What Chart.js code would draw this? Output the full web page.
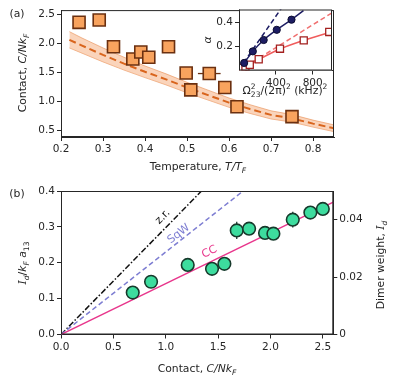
<!DOCTYPE html>
<html>
<head>
<meta charset="utf-8">
<script src="https://cdn.jsdelivr.net/npm/chart.js@4.4.1/dist/chart.umd.min.js"></script>
<style>
  body { margin: 0; background: #fff; }
  #wrap { position: relative; width: 397px; height: 381px; }
  canvas { position: absolute; }
</style>
</head>
<body>
<div id="wrap">
  <canvas id="cTop" width="397" height="180" style="left:0;top:0"></canvas>
  <canvas id="cInset" width="202" height="100" style="left:195px;top:0"></canvas>
  <canvas id="cBot" width="397" height="201" style="left:0;top:180px"></canvas>
</div>
<script>
// ---- panel (a): contact vs temperature ----
const tempT   = [0.243, 0.291, 0.325, 0.371, 0.390, 0.409, 0.456, 0.498, 0.509, 0.553, 0.590, 0.619, 0.750];
const contact = [2.36, 2.40, 1.94, 1.73, 1.85, 1.76, 1.94, 1.49, 1.20, 1.48, 1.24, 0.91, 0.74];
const tempErr = [0.010, 0, 0, 0, 0, 0, 0, 0, 0, 0.027, 0, 0, 0];

const theoryT   = [0.22, 0.25, 0.30, 0.35, 0.40, 0.45, 0.50, 0.55, 0.60, 0.65, 0.70, 0.75, 0.80, 0.85];
const theoryMid = [2.06, 1.96, 1.80, 1.65, 1.51, 1.38, 1.24, 1.11, 0.98, 0.87, 0.77, 0.71, 0.62, 0.54];
const theoryHi  = [2.20, 2.09, 1.92, 1.76, 1.61, 1.475, 1.33, 1.195, 1.06, 0.945, 0.84, 0.775, 0.68, 0.598];
const theoryLo  = [1.92, 1.83, 1.68, 1.54, 1.41, 1.285, 1.15, 1.025, 0.90, 0.795, 0.70, 0.645, 0.56, 0.482];

const topXTicks = [0.2, 0.3, 0.4, 0.5, 0.6, 0.7, 0.8];
const topYTicks = [0.5, 1.0, 1.5, 2.0, 2.5];

// ---- inset: alpha vs Omega^2 ----
const navyX = [56, 150, 268, 410, 570];
const navyY = [0.063, 0.160, 0.255, 0.340, 0.425];
const navyFitX = [30, 56, 150, 268, 410, 570, 700];
const navyFitY = [0.035, 0.063, 0.160, 0.255, 0.340, 0.425, 0.50];
const navyLinX = [0, 460];
const navyLinY = [0.01, 0.52];
const redX = [36, 70, 117, 214, 445, 703, 980];
const redY = [0.022, 0.031, 0.048, 0.094, 0.182, 0.252, 0.322];
const redFitX = [20, 36, 70, 117, 214, 445, 703, 980, 1010];
const redFitY = [0.016, 0.024, 0.034, 0.050, 0.092, 0.180, 0.252, 0.318, 0.325];
const redLinX = [0, 1010];
const redLinY = [0, 0.482];

const insetXTicks = [400, 800];
const insetYTicks = [0.2, 0.4];

// ---- panel (b): I_d/kF a13 vs contact ----
const contactB = [0.685, 0.86, 1.21, 1.442, 1.56, 1.678, 1.796, 1.948, 2.028, 2.213, 2.381, 2.50];
const idB      = [0.117, 0.147, 0.194, 0.183, 0.197, 0.290, 0.295, 0.283, 0.281, 0.320, 0.340, 0.350];
const idErr    = [0.008, 0.008, 0.008, 0.008, 0.008, 0.024, 0.012, 0.010, 0.008, 0.022, 0.010, 0.008];

const lineX  = [0, 2.6];
const ccY    = [0, 0.369];
const sqwY   = [0, 0.598];
const zrY    = [0, 0.775];

const botXTicks  = [0.0, 0.5, 1.0, 1.5, 2.0, 2.5];
const botYTicks  = [0.0, 0.1, 0.2, 0.3, 0.4];
const botY2Ticks = [0, 0.02, 0.04];

const FONT = '"DejaVu Sans", sans-serif';
const INK = '#262626';
const TICK = 10.5, TITLE = 10.8;

function pts(xs, ys) { return xs.map((x, i) => ({x: x, y: ys[i]})); }

// draw text made of styled pieces (italic, sub, sup), centred at x,y
function drawRich(ctx, parts, x, y, rot, size, color) {
  ctx.save();
  ctx.translate(x, y);
  ctx.rotate(rot || 0);
  ctx.fillStyle = color || INK;
  ctx.textBaseline = 'alphabetic';
  ctx.textAlign = 'left';
  const fontOf = p => (p.it ? 'italic ' : '') + ((p.sub || p.sup) ? size * 0.7 : size) + 'px ' +
    (p.serif ? '"DejaVu Serif", serif' : FONT);
  let cx = 0, prevX = 0;
  const pos = [];
  parts.forEach(p => {
    ctx.font = fontOf(p);
    const w = ctx.measureText(p.t).width;
    if (p.stack) { pos.push(prevX); cx = Math.max(cx, prevX + w); }
    else { pos.push(cx); prevX = cx; cx += w; }
  });
  parts.forEach((p, i) => {
    ctx.font = fontOf(p);
    let dy = size * 0.36;
    if (p.sub) dy += size * 0.28;
    if (p.sup) dy -= size * 0.42;
    ctx.fillText(p.t, pos[i] - cx / 2, dy);
  });
  ctx.restore();
}

function axis(pos, min, max, tickVals, fmt, fit) {
  return {
    type: 'linear', position: pos, min: min, max: max,
    afterBuildTicks: s => { s.ticks = tickVals.map(v => ({value: v})); },
    afterFit: s => { if (pos === 'bottom') s.height = fit; else s.width = fit; },
    ticks: { callback: fmt, font: {family: FONT, size: TICK}, color: INK,
             padding: 2, maxRotation: 0, autoSkip: false },
    grid: { drawOnChartArea: false, tickLength: 4, color: INK, lineWidth: 1 },
    border: { color: INK, width: 1 }
  };
}

const errorBars = {
  id: 'errorBars',
  beforeDatasetDraw(chart, args) {
    const ds = chart.data.datasets[args.index];
    if (!ds.xErr && !ds.yErr) return;
    const ctx = chart.ctx, xs = chart.scales[ds.xAxisID || 'x'], ys = chart.scales[ds.yAxisID || 'y'];
    ctx.save();
    ctx.strokeStyle = ds.borderColor;
    ctx.lineWidth = 1.3;
    ds.data.forEach((p, i) => {
      const px = xs.getPixelForValue(p.x), py = ys.getPixelForValue(p.y);
      const ex = ds.xErr ? ds.xErr[i] : 0, ey = ds.yErr ? ds.yErr[i] : 0;
      ctx.beginPath();
      if (ex) { ctx.moveTo(xs.getPixelForValue(p.x - ex), py); ctx.lineTo(xs.getPixelForValue(p.x + ex), py); }
      if (ey) { ctx.moveTo(px, ys.getPixelForValue(p.y - ey)); ctx.lineTo(px, ys.getPixelForValue(p.y + ey)); }
      ctx.stroke();
    });
    ctx.restore();
  }
};

function frame(chart, fill) {
  const a = chart.chartArea, ctx = chart.ctx;
  ctx.save();
  if (fill) { ctx.fillStyle = '#fff'; ctx.fillRect(a.left, a.top, a.right - a.left, a.bottom - a.top); }
  else { ctx.strokeStyle = INK; ctx.lineWidth = 1; ctx.strokeRect(a.left + 0.5, a.top + 0.5, a.right - a.left - 1, a.bottom - a.top - 1); }
  ctx.restore();
}

const base = {
  responsive: false, animation: false, events: [],
  plugins: { legend: {display: false}, tooltip: {enabled: false} }
};

// ---------- top chart ----------
new Chart(document.getElementById('cTop'), {
  type: 'scatter',
  data: { datasets: [
    { data: pts(tempT, contact), pointStyle: 'rect', pointRadius: 8.5, backgroundColor: '#f8a35e',
      borderColor: '#6b3010', borderWidth: 1.6, xErr: tempErr },
    { type: 'line', data: pts(theoryT, theoryMid), borderColor: '#d9651d', borderWidth: 2,
      borderDash: [7, 4], pointRadius: 0, fill: false },
    { type: 'line', data: pts(theoryT, theoryHi), borderColor: 'rgba(232,140,80,0.6)', borderWidth: 1,
      pointRadius: 0, fill: '+1', backgroundColor: 'rgba(245,170,120,0.5)' },
    { type: 'line', data: pts(theoryT, theoryLo), borderColor: 'rgba(232,140,80,0.6)', borderWidth: 1,
      pointRadius: 0, fill: false }
  ]},
  options: Object.assign({}, base, {
    layout: { padding: {left: 0, right: 63, top: 9, bottom: 0} },
    scales: {
      x: axis('bottom', 0.2, 0.85, topXTicks, v => v.toFixed(1), 43),
      y: axis('left', 0.39, 2.57, topYTicks, v => v.toFixed(1), 61)
    }
  }),
  plugins: [errorBars, {
    id: 'decoTop',
    afterDraw(chart) {
      const ctx = chart.ctx;
      frame(chart);
      drawRich(ctx, [{t: 'Contact, '}, {t: 'C/Nk', it: true}, {t: 'F', it: true, sub: true}], 22, 73, -Math.PI / 2, TITLE);
      drawRich(ctx, [{t: 'Temperature, '}, {t: 'T/T', it: true}, {t: 'F', it: true, sub: true}], 198, 166, 0, TITLE);
      drawRich(ctx, [{t: '(a)'}], 17, 13, 0, TITLE);
    }
  }]
});

// ---------- inset ----------
new Chart(document.getElementById('cInset'), {
  type: 'scatter',
  data: { datasets: [
    { data: pts(navyX, navyY), pointRadius: 3.6, backgroundColor: '#1d1d63', borderColor: '#0c0c30', borderWidth: 1 },
    { data: pts(redX, redY), pointStyle: 'rect', pointRadius: 5, backgroundColor: '#fff', borderColor: '#a3201f', borderWidth: 1.3 },
    { type: 'line', data: pts(navyFitX, navyFitY), borderColor: '#1d1d63', borderWidth: 1.5, pointRadius: 0,
      cubicInterpolationMode: 'monotone', fill: false },
    { type: 'line', data: pts(navyLinX, navyLinY), borderColor: '#1d1d63', borderWidth: 1.5, borderDash: [5, 3],
      pointRadius: 0, fill: false },
    { type: 'line', data: pts(redFitX, redFitY), borderColor: '#f05c5c', borderWidth: 1.5, pointRadius: 0,
      cubicInterpolationMode: 'monotone', fill: false },
    { type: 'line', data: pts(redLinX, redLinY), borderColor: '#f07070', borderWidth: 1.5, borderDash: [5, 3],
      pointRadius: 0, fill: false }
  ]},
  options: Object.assign({}, base, {
    layout: { padding: {left: 0, right: 65, top: 9.5, bottom: 0} },
    scales: {
      x: axis('bottom', 0, 1010, insetXTicks, v => String(v), 29.5),
      y: axis('left', 0, 0.51, insetYTicks, v => v.toFixed(1), 44)
    }
  }),
  plugins: [{
    id: 'decoInset',
    beforeDatasetsDraw(chart) { frame(chart, true); },
    afterDraw(chart) {
      const ctx = chart.ctx;
      frame(chart);
      drawRich(ctx, [{t: 'α', it: true}], 12, 40, -Math.PI / 2, TITLE);
      drawRich(ctx, [{t: 'Ω'}, {t: '2', sup: true}, {t: '23', sub: true, stack: true}, {t: '/(2π)'},
        {t: '2', sup: true}, {t: ' (kHz)'}, {t: '2', sup: true}], 90, 90, 0, TITLE);
    }
  }]
});

// ---------- bottom chart ----------
new Chart(document.getElementById('cBot'), {
  type: 'scatter',
  data: { datasets: [
    { data: pts(contactB, idB), pointRadius: 6.3, backgroundColor: '#3ddc9e', borderColor: '#173a2c',
      borderWidth: 1.6, yErr: idErr },
    { type: 'line', data: pts(lineX, ccY), borderColor: '#e8368c', borderWidth: 1.5, pointRadius: 0, fill: false },
    { type: 'line', data: pts(lineX, sqwY), borderColor: '#7d7dd2', borderWidth: 1.5, borderDash: [5, 3],
      pointRadius: 0, fill: false },
    { type: 'line', data: pts(lineX, zrY), borderColor: '#111', borderWidth: 1.5, borderDash: [6, 2, 1.5, 2],
      pointRadius: 0, fill: false }
  ]},
  options: Object.assign({}, base, {
    layout: { padding: {left: 0, right: 0, top: 11, bottom: 0} },
    scales: {
      x: axis('bottom', 0, 2.6, botXTicks, v => v.toFixed(1), 46.5),
      y: axis('left', 0, 0.4, botYTicks, v => v.toFixed(1), 61),
      y2: axis('right', 0, 0.05, botY2Ticks, v => v === 0 ? '0' : v.toFixed(2), 63.7)
    }
  }),
  plugins: [errorBars, {
    id: 'decoBot',
    afterDraw(chart) {
      const ctx = chart.ctx, sx = chart.scales.x, sy = chart.scales.y;
      const ang = ys => -Math.atan2(sy.getPixelForValue(0) - sy.getPixelForValue(ys[1]),
                                    sx.getPixelForValue(lineX[1]) - sx.getPixelForValue(0));
      frame(chart);
      drawRich(ctx, [{t: 'z.r.'}], 162, 36, ang(zrY), TITLE, '#111');
      drawRich(ctx, [{t: 'SqW'}], 178, 53, ang(sqwY), 11, '#7d7dd2');
      drawRich(ctx, [{t: 'CC'}], 209, 71, ang(ccY), 11, '#e8368c');
      drawRich(ctx, [{t: 'I', it: true, serif: true}, {t: 'd', it: true, sub: true}, {t: '/'}, {t: 'k', it: true},
        {t: 'F', it: true, sub: true}, {t: ' a', it: true}, {t: '13', sub: true}], 22, 83, -Math.PI / 2, TITLE);
      drawRich(ctx, [{t: 'Dimer weight, '}, {t: 'I', it: true, serif: true}, {t: 'd', it: true, sub: true}],
        380, 85, -Math.PI / 2, TITLE);
      drawRich(ctx, [{t: 'Contact, '}, {t: 'C/Nk', it: true}, {t: 'F', it: true, sub: true}], 197, 188, 0, TITLE);
      drawRich(ctx, [{t: '(b)'}], 17, 13, 0, TITLE);
    }
  }]
});
</script>
</body>
</html>
